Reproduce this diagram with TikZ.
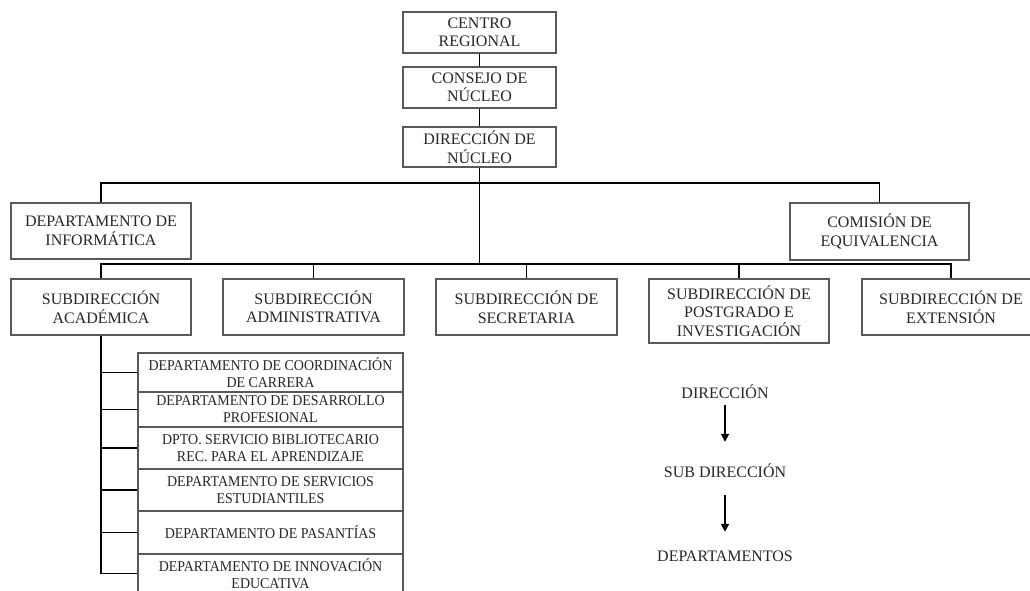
\documentclass[tikz,border=0pt]{standalone}
\usepackage{fontspec}
\setmainfont{Liberation Serif}
\newfontfamily\deptfont[FakeStretch=0.93]{Liberation Serif}
\usetikzlibrary{arrows.meta}

\begin{document}
\begin{tikzpicture}
[x=1pt,y=-1pt,%
  unitBox/.style={draw=black!65,line width=1.2pt,align=center,inner sep=0pt,
    text=black!85,font=\fontsize{16}{18.5}\selectfont},%
  deptBox/.style={unitBox,minimum width=265pt,
    font=\deptfont\fontsize{15}{17}\selectfont},%
  darkLine/.style={line width=1.8pt},%
  legendText/.style={inner sep=0pt,text height=11pt,text depth=0pt,
    text=black!85,font=\fontsize{16}{18.5}\selectfont},%
  legendArrow/.style={darkLine,-{Triangle[length=8pt,width=8pt]}}]
\useasboundingbox (0,0) rectangle (1030,591);
\clip (0,0) rectangle (1030,591);
%% draw the units
\foreach \nodename/\x/\y/\w/\h/\txt in {
  centro/479.5/32.5/153/41/{CENTRO\\REGIONAL},
  consejo/479.5/87.5/153/41/{CONSEJO DE\\NÚCLEO},
  direccion/479.5/147/153/40/{DIRECCIÓN DE\\NÚCLEO},
  informatica/101/231/180/56/{DEPARTAMENTO DE\\INFORMÁTICA},
  comision/879.5/231.5/179/57/{COMISIÓN DE\\EQUIVALENCIA},
  academica/101/307/180/56/{SUBDIRECCIÓN\\ACADÉMICA},
  administrativa/313.5/307/181/56/{SUBDIRECCIÓN\\ADMINISTRATIVA},
  secretaria/526.5/307/181/56/{SUBDIRECCIÓN DE\\SECRETARIA},
  postgrado/739/311/180/64/{SUBDIRECCIÓN DE\\POSTGRADO E\\INVESTIGACIÓN},
  extension/951/307/178/56/{SUBDIRECCIÓN DE\\EXTENSIÓN}}
{
  \node (\nodename) at (\x,\y) [unitBox,minimum width=\w pt,minimum height=\h pt] {\txt};
}
%% draw the departments
\foreach \nodename/\y/\h/\txt in {
  dep1/372.5/39/{DEPARTAMENTO DE COORDINACIÓN\\DE CARRERA},
  dep2/409.5/35/{DEPARTAMENTO DE DESARROLLO\\PROFESIONAL},
  dep3/448/42/{DPTO. SERVICIO BIBLIOTECARIO\\REC. PARA EL APRENDIZAJE},
  dep4/490/42/{DEPARTAMENTO DE SERVICIOS\\ESTUDIANTILES},
  dep5/532.5/43/{DEPARTAMENTO DE PASANTÍAS},
  dep6/573.5/40/{DEPARTAMENTO DE INNOVACIÓN\\EDUCATIVA}}
{
  \node (\nodename) at (270.5,\y) [deptBox,minimum height=\h pt] {\txt};
}
%% draw the edges
\coordinate (topBus) at (479.5,183);
\coordinate (midBus) at (479.5,264);
\foreach \u/\v in {centro/consejo, consejo/direccion, direccion/midBus}
{
  \draw[darkLine] (\u) -- (\v);
}
\draw[darkLine] (informatica.north) |- (topBus) -| (comision.north);
\foreach \v in {academica, administrativa, secretaria, postgrado, extension}
{
  \draw[darkLine] (midBus) -| (\v.north);
}
\foreach \v in {dep1, dep2, dep3, dep4, dep5, dep6}
{
  \draw[darkLine] (academica.south) |- (\v.west);
}
%% legend
\node (legDir) at (725,392.5) [legendText] {DIRECCIÓN};
\node (legSub) at (725,472) [legendText] {SUB DIRECCIÓN};
\node (legDep) at (725,556) [legendText] {DEPARTAMENTOS};
\draw[legendArrow,shorten <=7pt,shorten >=24.5pt] (legDir) -- (legSub);
\draw[legendArrow,shorten <=17.5pt,shorten >=18.5pt] (legSub) -- (legDep);
\end{tikzpicture}
\end{document}
